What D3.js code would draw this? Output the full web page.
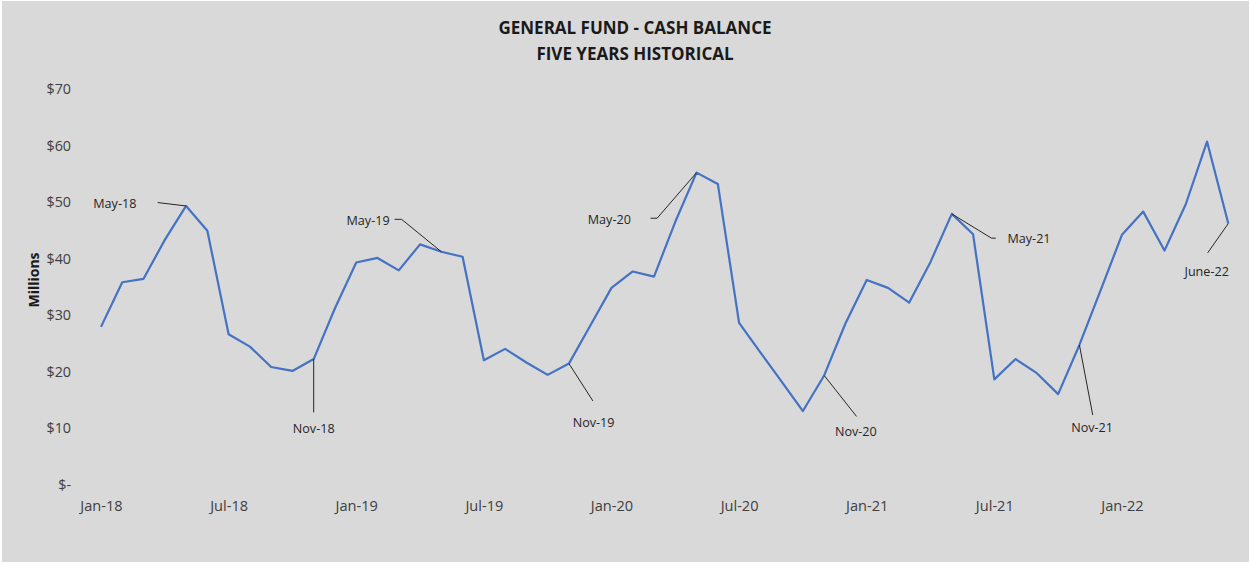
<!DOCTYPE html>
<html>
<head>
<meta charset="utf-8">
<script src="https://cdn.jsdelivr.net/npm/d3@7"></script>
<style>
  html, body { margin: 0; padding: 0; background: #ffffff; }
  svg { display: block; }
</style>
</head>
<body>
<svg id="chart" width="1250" height="564"></svg>
<script>
// ---- Data ----
const months = [
  "Jan-18","Feb-18","Mar-18","Apr-18","May-18","Jun-18","Jul-18","Aug-18","Sep-18","Oct-18","Nov-18","Dec-18",
  "Jan-19","Feb-19","Mar-19","Apr-19","May-19","Jun-19","Jul-19","Aug-19","Sep-19","Oct-19","Nov-19","Dec-19",
  "Jan-20","Feb-20","Mar-20","Apr-20","May-20","Jun-20","Jul-20","Aug-20","Sep-20","Oct-20","Nov-20","Dec-20",
  "Jan-21","Feb-21","Mar-21","Apr-21","May-21","Jun-21","Jul-21","Aug-21","Sep-21","Oct-21","Nov-21","Dec-21",
  "Jan-22","Feb-22","Mar-22","Apr-22","May-22","Jun-22"
];
const cashBalance = [
  27.9, 35.8, 36.4, 43.3, 49.3, 44.9, 26.6, 24.4, 20.8, 20.1, 22.2, 31.2,
  39.3, 40.1, 37.9, 42.5, 41.2, 40.3, 22.0, 24.0, 21.6, 19.4, 21.4, 28.1,
  34.8, 37.7, 36.8, 46.5, 55.2, 53.2, 28.6, 23.4, 18.2, 13.0, 19.3, 28.5,
  36.2, 34.8, 32.2, 39.4, 47.9, 44.3, 18.6, 22.2, 19.7, 16.0, 24.7, 34.4,
  44.2, 48.3, 41.4, 49.6, 60.7, 46.2
];
const xTickLabels = ["Jan-18","Jul-18","Jan-19","Jul-19","Jan-20","Jul-20","Jan-21","Jul-21","Jan-22"];
const yTickValues = [0, 10, 20, 30, 40, 50, 60, 70];
const yTickLabels = ["$-","$10","$20","$30","$40","$50","$60","$70"];
const annotationMonths = ["May-18","Nov-18","May-19","Nov-19","May-20","Nov-20","May-21","Nov-21","Jun-22"];
const annotationLabels = ["May-18","Nov-18","May-19","Nov-19","May-20","Nov-20","May-21","Nov-21","June-22"];
const titleLines = ["GENERAL FUND - CASH BALANCE", "FIVE YEARS HISTORICAL"];
const yAxisTitle = "Millions";

// ---- Layout (leader offsets relative to the data point, px) ----
const annotationLayout = {
  "May-18":  { leader: [[-28.4,-3.4]],              text: [-49.7,-2.7], anchor: "end" },
  "Nov-18":  { leader: [[0,53.3]],                  text: [0,69.3],     anchor: "middle" },
  "May-19":  { leader: [[-39.7,-32.4],[-46.7,-32.4]], text: [-51.7,-31.7], anchor: "end" },
  "Nov-19":  { leader: [[24,37.4]],                 text: [24.7,59],    anchor: "middle" },
  "May-20":  { leader: [[-39.4,45.6],[-46,45.6]],   text: [-65.7,47.3], anchor: "end" },
  "Nov-20":  { leader: [[32.4,41]],                 text: [31.7,55.7],  anchor: "middle" },
  "May-21":  { leader: [[39.7,24.3],[44,24.3]],     text: [55.7,25],    anchor: "start" },
  "Nov-21":  { leader: [[13.3,70]],                 text: [12.7,82.7],  anchor: "middle" },
  "Jun-22":  { leader: [[-20.6,29.4]],              text: [-21.6,48.4], anchor: "middle" }
};

const W = 1250, H = 564;
const svg = d3.select("#chart");
const FONT = "'Open Sans', 'Noto Sans', sans-serif";

// background
svg.append("rect").attr("x", 0).attr("y", 0).attr("width", W).attr("height", H).attr("fill", "#ffffff");
svg.append("rect").attr("x", 2).attr("y", 1).attr("width", W - 3).attr("height", H - 3).attr("fill", "#d9d9d9");

// scales
const x = d3.scaleLinear().domain([0, months.length - 1]).range([101, 1228.3]);
const y = d3.scaleLinear().domain([0, 70]).range([484.5, 89]);

// title
svg.append("text")
  .attr("x", 635).attr("y", 27)
  .attr("text-anchor", "middle").attr("dominant-baseline", "central")
  .attr("font-family", FONT).attr("font-weight", "bold").attr("font-size", "17px")
  .attr("fill", "#1a1a1a")
  .selectAll("tspan").data(titleLines).join("tspan")
  .attr("x", 635).attr("dy", (d, i) => i === 0 ? 0 : 26.4)
  .text(d => d);

// y axis
const yAxis = d3.axisLeft(y)
  .tickValues(yTickValues)
  .tickFormat((d, i) => yTickLabels[i])
  .tickSize(0).tickPadding(0);
const gy = svg.append("g").attr("transform", "translate(71,0)").call(yAxis);
gy.select(".domain").remove();
gy.selectAll("text")
  .attr("font-family", FONT).attr("font-size", "14.3px").attr("fill", "#404040");

// x axis
const xTickIdx = xTickLabels.map(l => months.indexOf(l));
const xAxis = d3.axisBottom(x)
  .tickValues(xTickIdx)
  .tickFormat((d, i) => xTickLabels[i])
  .tickSize(0).tickPadding(0);
const gx = svg.append("g").attr("transform", "translate(0,500.5)").call(xAxis);
gx.select(".domain").remove();
gx.selectAll("text")
  .attr("font-family", FONT).attr("font-size", "14.6px").attr("fill", "#404040");

// y axis title
svg.append("text")
  .attr("transform", "translate(33,280) rotate(-90)")
  .attr("text-anchor", "middle").attr("dominant-baseline", "central")
  .attr("font-family", FONT).attr("font-weight", "bold").attr("font-size", "14px")
  .attr("fill", "#1a1a1a")
  .text(yAxisTitle);

// line
const line = d3.line().x((d, i) => x(i)).y(d => y(d));
svg.append("path")
  .datum(cashBalance)
  .attr("d", line)
  .attr("fill", "none")
  .attr("stroke", "#4472c4")
  .attr("stroke-width", 2.2)
  .attr("stroke-linejoin", "round");

// annotations
const ann = svg.append("g");
annotationMonths.forEach((m, k) => {
  const i = months.indexOf(m);
  const px = x(i), py = y(cashBalance[i]);
  const lay = annotationLayout[m];
  const pts = [[px, py]].concat(lay.leader.map(o => [px + o[0], py + o[1]]));
  ann.append("path")
    .attr("d", d3.line()(pts))
    .attr("fill", "none").attr("stroke", "#262626").attr("stroke-width", 1);
  ann.append("text")
    .attr("x", px + lay.text[0]).attr("y", py + lay.text[1])
    .attr("text-anchor", lay.anchor).attr("dominant-baseline", "central")
    .attr("font-family", FONT).attr("font-size", "12.6px").attr("fill", "#262626")
    .text(annotationLabels[k]);
});
</script>
</body>
</html>
